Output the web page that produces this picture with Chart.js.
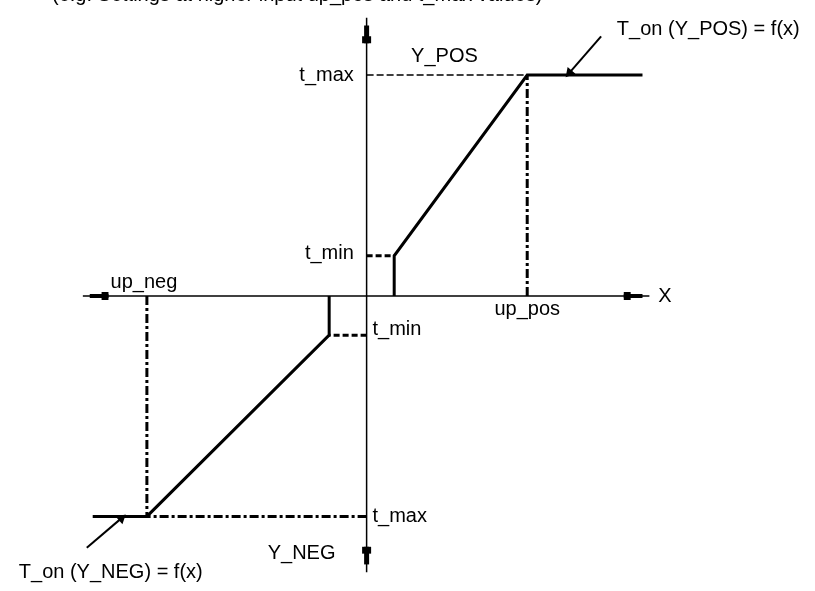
<!DOCTYPE html>
<html>
<head>
<meta charset="utf-8">
<script src="https://cdn.jsdelivr.net/npm/chart.js@4"></script>
<style>
  html, body { margin: 0; padding: 0; background: #fff; }
  #wrap { width: 815px; height: 591px; }
</style>
</head>
<body>
<div id="wrap"><canvas id="chart"></canvas></div>
<script>
// Kennlinie T_on = f(x), units: origin at the axis crossing
const posX = [2.8, 2.8, 16.3, 28.0];      // x_min, x_min, up_pos, end
const posY = [0, 4.1, 22.55, 22.55];      // 0, t_min, t_max, t_max
const negX = [-3.8, -3.8, -22.3, -27.8];  // x_min, x_min, up_neg, end
const negY = [0, -4.0, -22.5, -22.5];     // 0, -t_min, -t_max, -t_max

const axisX = [-28.8, 28.7];
const axisY = [-28.2, 28.4];

const xTickLabels = ['up_neg', 'up_pos'];
const yTickLabels = ['t_max', 't_min', 't_min', 't_max'];

const pts = (xs, ys) => xs.map((x, i) => ({ x: x, y: ys[i] }));
const seg = (x1, y1, x2, y2) => [{ x: x1, y: y1 }, { x: x2, y: y2 }];

function line(data, width, dash) {
  return {
    data: data, showLine: true, borderColor: '#000', backgroundColor: '#000',
    borderWidth: width, borderDash: dash || [], pointRadius: 0, tension: 0
  };
}

// arrow heads of the axes (thick shaft + block)
function headX(tip, dir) {
  return [
    line(seg(tip + dir * 0.7, 0, tip + dir * 2.6, 0), 4),
    line(seg(tip + dir * 1.9, 0, tip + dir * 2.6, 0), 8)
  ];
}
function headY(tip, dir) {
  return [
    line(seg(0, tip + dir * 0.8, 0, tip + dir * 2.6), 5),
    line(seg(0, tip + dir * 1.9, 0, tip + dir * 2.6), 9)
  ];
}

function callout(x1, y1, x2, y2, rot) {
  const d = line(seg(x1, y1, x2, y2), 2);
  d.pointRadius = [0, 4];
  d.pointStyle = 'triangle';
  d.pointRotation = [0, rot];
  return d;
}

const dashDot = [9, 3, 3, 3];

const datasets = [
  // axes
  line(seg(axisX[0], 0, axisX[1], 0), 1.5),
  line(seg(0, axisY[0], 0, axisY[1]), 1.5),
  ...headX(axisX[0], 1), ...headX(axisX[1], -1),
  ...headY(axisY[1], -1), ...headY(axisY[0], 1),
  // guide lines
  line(seg(0, posY[2], posX[2], posY[2]), 1.5, [7, 3]),
  line(seg(posX[2], 0, posX[2], posY[2]), 3, dashDot),
  line(seg(0, posY[1], posX[1], posY[1]), 3, [6, 3]),
  line(seg(0, negY[1], negX[1], negY[1]), 3, [6, 3]),
  line(seg(negX[2], 0, negX[2], negY[2]), 3, dashDot),
  line(seg(0, negY[2], negX[2], negY[2]), 3, dashDot),
  // characteristic
  line(pts(posX, posY), 3),
  line(pts(negX, negY), 3),
  // callouts
  callout(23.8, 26.5, 20.6, 22.8, 221),
  callout(-28.4, -25.7, -24.9, -22.7, 49)
];

const labels = [
  { t: yTickLabels[0], x: -1.3, y: posY[2], a: 'right' },
  { t: yTickLabels[1], x: -1.3, y: posY[1] + 0.2, a: 'right' },
  { t: yTickLabels[2], x: 0.6, y: negY[1] + 0.6, a: 'left' },
  { t: yTickLabels[3], x: 0.6, y: negY[2], a: 'left' },
  { t: xTickLabels[1], x: posX[2], y: -1.4, a: 'center' },
  { t: xTickLabels[0], x: negX[2] - 0.3, y: 1.4, a: 'center' },
  { t: 'Y_POS', x: 7.9, y: 24.4, a: 'center' },
  { t: 'Y_NEG', x: -6.6, y: -26.3, a: 'center' },
  { t: 'X', x: 29.6, y: -0.1, a: 'left' },
  { t: 'T_on (Y_POS) = f(x)', x: 25.4, y: 27.2, a: 'left' },
  { t: 'T_on (Y_NEG) = f(x)', x: -35.3, y: -28.2, a: 'left' }
];

const textPlugin = {
  id: 'texts',
  afterDraw(chart) {
    const ctx = chart.ctx, sx = chart.scales.x, sy = chart.scales.y;
    ctx.save();
    ctx.fillStyle = '#000';
    ctx.font = '20px "Liberation Sans", Arial, sans-serif';
    ctx.textBaseline = 'middle';
    labels.forEach(l => {
      ctx.textAlign = l.a;
      ctx.fillText(l.t, sx.getPixelForValue(l.x), sy.getPixelForValue(l.y));
    });
    // title line cut off at the top edge
    ctx.textAlign = 'left';
    ctx.textBaseline = 'alphabetic';
    ctx.fillText('(e.g. Settings at higher input up_pos and t_max values)', 52, 1);
    ctx.restore();
  }
};

new Chart(document.getElementById('chart'), {
  type: 'scatter',
  data: { datasets: datasets },
  options: {
    responsive: true,
    maintainAspectRatio: false,
    animation: false,
    layout: { padding: 0 },
    plugins: { legend: { display: false }, tooltip: { enabled: false } },
    scales: {
      x: { type: 'linear', display: false, min: -36.6, max: 44.9 },
      y: { type: 'linear', display: false, min: -29.5, max: 29.6 }
    }
  },
  plugins: [textPlugin]
});
</script>
</body>
</html>
